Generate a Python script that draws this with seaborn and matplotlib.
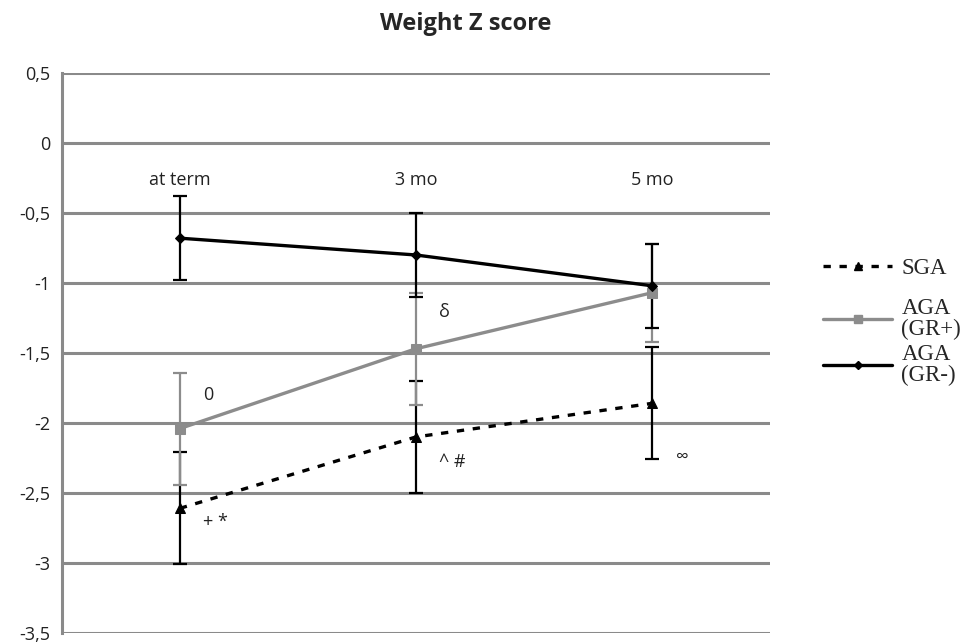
import numpy as np
import pandas as pd
import matplotlib
matplotlib.use('Agg')
import matplotlib.pyplot as plt
import seaborn as sns
from matplotlib.lines import Line2D
from matplotlib.ticker import FixedLocator, FuncFormatter

# values
categories = ['at term', '3 mo', '5 mo']
sga = [-2.61, -2.10, -1.86]
sga_err = [0.40, 0.40, 0.40]
aga_gr_pos = [-2.04, -1.47, -1.07]
aga_gr_pos_err = [0.40, 0.40, 0.35]
aga_gr_neg = [-0.68, -0.80, -1.02]
aga_gr_neg_err = [0.30, 0.30, 0.30]
yticks = [0.5, 0, -0.5, -1, -1.5, -2, -2.5, -3, -3.5]

# annotations: (category index, value, text)
notes = [(0, -1.80, '0'), (1, -1.21, 'δ'), (1, -2.28, '^ #'),
         (0, -2.71, '+ *'), (2, -2.24, '∞')]

sns.set_style('white')
plt.rcParams['font.family'] = ['Open Sans', 'DejaVu Sans']

df = pd.DataFrame({
    'time': categories * 3,
    'z': sga + aga_gr_pos + aga_gr_neg,
    'group': ['SGA'] * 3 + ['AGA (GR+)'] * 3 + ['AGA (GR-)'] * 3,
})

fig = plt.figure(figsize=(9.66, 6.43), dpi=100)
ax = fig.add_axes([0.064, 0.0156, 0.733, 0.8709])

grid_col = '#8a8a8a'
for y in yticks:
    ax.axhline(y, color=grid_col, lw=2.2, zorder=0)

pos = np.arange(len(categories))
styles = {
    'SGA': dict(color='black', ls=(0, (2.2, 2.6)), marker='^', ms=7, err=sga_err),
    'AGA (GR+)': dict(color='#8c8c8c', ls='-', marker='s', ms=7, err=aga_gr_pos_err),
    'AGA (GR-)': dict(color='black', ls='-', marker='D', ms=5, err=aga_gr_neg_err),
}
for name, st in styles.items():
    sub = df[df['group'] == name]
    ax.errorbar(pos, sub['z'].values, yerr=st['err'], fmt='none',
                ecolor=st['color'], elinewidth=1.6, capsize=5, capthick=1.6, zorder=2)
    sns.lineplot(x=pos, y=sub['z'].values, ax=ax, color=st['color'], lw=2.4,
                 linestyle=st['ls'], marker=st['marker'], markersize=st['ms'],
                 markeredgecolor=st['color'], legend=False, zorder=3)

for i, v, t in notes:
    ax.text(pos[i] + 0.1, v, t, fontsize=13, ha='left', va='center',
            color='#222222')

ax.set_xlim(-0.5, 2.5)
ax.set_ylim(-3.5, 0.5)
ax.set_yticks(yticks)
ax.yaxis.set_major_formatter(FuncFormatter(
    lambda v, p: ('%g' % v).replace('.', ',')))
ax.tick_params(axis='y', labelsize=13, length=5, color=grid_col, width=2,
               colors='#222222')

ax.set_xticks(pos)
ax.set_xticklabels(categories)
ax.xaxis.set_minor_locator(FixedLocator([0.5, 1.5]))
ax.spines['bottom'].set_position(('data', 0))
ax.tick_params(axis='x', which='major', length=0, labelsize=13, pad=20,
               colors='#222222')
ax.tick_params(axis='x', which='minor', length=5, width=2, color=grid_col)

for s in ['top', 'right']:
    ax.spines[s].set_visible(False)
ax.spines['bottom'].set_visible(False)
ax.spines['left'].set_color(grid_col)
ax.spines['left'].set_linewidth(2.2)
ax.set_xlabel('')
ax.set_ylabel('')

fig.text(0.482, 0.962, 'Weight Z score', ha='center', va='center',
         fontsize=17, fontweight='bold')

# legend: SGA sits a bit apart from the two AGA entries
handles = [Line2D([], [], color=st['color'], ls=st['ls'], lw=2.4,
                  marker=st['marker'], markersize=st['ms'] - 1)
           for st in styles.values()]
labels = ['SGA', 'AGA\n(GR+)', 'AGA\n(GR-)']
leg_kw = dict(frameon=False, prop={'family': 'Liberation Serif', 'size': 16.5},
              handlelength=3.0, handletextpad=0.4, loc='center left')
leg1 = fig.legend(handles[:1], labels[:1], bbox_to_anchor=(0.831, 0.583), **leg_kw)
leg2 = fig.legend(handles[1:], labels[1:], bbox_to_anchor=(0.831, 0.468),
                  labelspacing=0.15, **leg_kw)
for t in leg2.get_texts():
    t.set_linespacing(1.0)

fig.savefig('out.png', dpi=100)
